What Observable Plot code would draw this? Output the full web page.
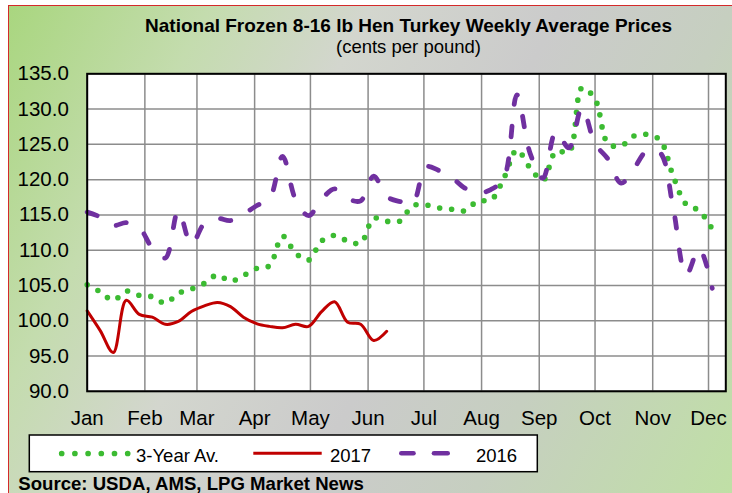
<!DOCTYPE html>
<html>
<head>
<meta charset="utf-8">
<script src="https://cdn.jsdelivr.net/npm/d3@7"></script>
<script src="https://cdn.jsdelivr.net/npm/@observablehq/plot@0.6"></script>
<style>
  body { margin: 0; background: #ffffff; }
  #chart { position: relative; width: 732px; height: 493px; overflow: hidden; font-family: "Liberation Sans", Arial, sans-serif; }
  #bg { position: absolute; left: 8px; top: 5px; width: 740px; height: 500px;
        border-top: 1.5px solid #d42a2a; border-left: 1.5px solid #d42a2a;
        background: linear-gradient(118deg, #a9d67f 0%, #c4dcae 20%, #d3d6ce 36%, #cbcbcb 55%, #c6cfc0 72%, #bfe1a3 100%); }
  #plot { position: absolute; left: 0; top: 0; }
  #overlay { position: absolute; left: 0; top: 0; pointer-events: none; }
</style>
</head>
<body>
<div id="chart">
  <div id="bg"></div>
  <div id="plot"></div>
  <svg id="overlay" width="732" height="493" font-family="Liberation Sans, Arial, sans-serif">
    <text x="408.5" y="31.5" text-anchor="middle" font-weight="bold" font-size="19px" fill="#000">National Frozen 8-16 lb Hen Turkey Weekly Average Prices</text>
    <text x="408.5" y="53" text-anchor="middle" font-size="18.5px" fill="#000">(cents per pound)</text>
    <rect x="29.3" y="435" width="508" height="36.7" fill="#ffffff" stroke="#000" stroke-width="1.5"></rect>
    <line x1="61.7" x2="128" y1="453.5" y2="453.5" stroke="#3cbb32" stroke-width="5.7" stroke-dasharray="0,13.2" stroke-linecap="round"></line>
    <text x="136" y="461.7" font-size="18.5px" fill="#000">3-Year Av.</text>
    <line x1="253.3" x2="321.7" y1="453.3" y2="453.3" stroke="#c00000" stroke-width="3"></line>
    <text x="330" y="461.7" font-size="18.5px" fill="#000">2017</text>
    <line x1="401.3" x2="413.5" y1="453.3" y2="453.3" stroke="#7030a0" stroke-width="4.6" stroke-linecap="round"></line>
    <line x1="434" x2="447.7" y1="453.3" y2="453.3" stroke="#7030a0" stroke-width="4.6" stroke-linecap="round"></line>
    <text x="476" y="461.7" font-size="18.5px" fill="#000">2016</text>
    <text x="18.3" y="490" font-weight="bold" font-size="18.6px" fill="#000">Source: USDA, AMS, LPG Market News</text>
  </svg>
</div>
<script>
// ---- Data (cents per pound), weekly, starting first week of January ----
const monthLabels = ["Jan","Feb","Mar","Apr","May","Jun","Jul","Aug","Sep","Oct","Nov","Dec"];
const yTicks = [90, 95, 100, 105, 110, 115, 120, 125, 130, 135];

const avg3yr = [105.1, 104.1, 102.9, 104.2, 103.6, 103.4, 102.5, 103.9, 104.5, 105.3,
                106.5, 105.6, 106.4, 107.4, 107.8, 112.0, 109.6, 108.6, 111.3, 112.1,
                111.3, 111.0, 114.5, 114.1, 114.1, 116.3, 116.4, 116.0, 115.8, 115.6,
                117.0, 117.1, 120.2, 124.2, 121.7, 119.9, 124.0, 123.9, 133.0, 131.4,
                125.1, 124.8, 126.2, 126.4, 125.6, 120.5, 116.5, 115.6, 113.0];

const y2017 = [101.4, 98.6, 95.5, 102.9, 100.9, 100.5, 99.5, 99.9, 101.3, 102.1,
               102.6, 102.0, 100.5, 99.6, 99.2, 99.0, 99.5, 99.2, 101.3, 102.7,
               99.8, 99.5, 97.2, 98.5];

const y2016 = [115.4, 114.7, 113.5, 113.9, 113.2, 110.3, 108.9, 115.6, 110.8, 113.8,
               114.5, 114.2, 115.1, 116.3, 117.3, 123.3, 117.2, 114.9, 117.2, 118.7,
               117.3, 117.0, 120.5, 117.6, 116.9, 116.7, 121.8, 121.3, 120.3, 118.8,
               118.1, 118.6, 120.2, 132.0, 123.8, 120.2, 126.8, 124.5, 130.2, 125.1,
               122.9, 119.5, 121.6, 124.1, 123.8, 116.0, 106.5, 110.2, 104.6];

// ---- Build tables ----
const start = new Date(Date.UTC(2017, 0, 1));
const xEnd = new Date("2017-12-10T07:00:00Z");
const weekDate = i => d3.utcDay.offset(start, 7 * i);
const toRows = arr => arr.map((v, i) => ({date: weekDate(i), value: v}));
const monthTicks = monthLabels.map((m, i) => new Date(Date.UTC(2017, i, 1)));

const green = "#3cbb32", red = "#c00000", purple = "#7030a0";

const chart = Plot.plot({
  width: 732,
  height: 493,
  marginLeft: 86.7,
  marginRight: 6.7,
  marginTop: 73.3,
  marginBottom: 102.2,
  style: {background: "transparent", fontFamily: "Liberation Sans, Arial, sans-serif", fontSize: "20.5px", color: "#000", overflow: "visible"},
  x: {type: "utc", domain: [start, xEnd], label: null},
  y: {domain: [90, 135], label: null},
  marks: [
    Plot.frame({fill: "#ffffff", stroke: null}),
    Plot.gridY(yTicks, {stroke: "#8c8c8c", strokeOpacity: 1, strokeWidth: 1.5}),
    Plot.gridX(monthTicks, {stroke: "#8c8c8c", strokeOpacity: 1, strokeWidth: 1.5}),
    Plot.axisY(yTicks, {tickSize: 0, tickPadding: 18.4, tickFormat: d3.format(".1f"), label: null, fontSize: 20.5}),
    Plot.axisX(monthTicks, {tickSize: 0, tickPadding: 19, tickFormat: d => monthLabels[d.getUTCMonth()], label: null, fontSize: 20.5}),
    Plot.line(toRows(avg3yr), {x: "date", y: "value", curve: "catmull-rom", stroke: green, strokeWidth: 5.6, strokeDasharray: "0,12", strokeLinecap: "round"}),
    Plot.line(toRows(y2017), {x: "date", y: "value", curve: "catmull-rom", stroke: red, strokeWidth: 3}),
    Plot.line(toRows(y2016), {x: "date", y: "value", curve: "catmull-rom", stroke: purple, strokeWidth: 4.8, strokeDasharray: "10.5,22", strokeLinecap: "round"}),
    Plot.frame({stroke: "#000", strokeWidth: 2})
  ]
});
document.getElementById("plot").appendChild(chart);
</script>
</body>
</html>
